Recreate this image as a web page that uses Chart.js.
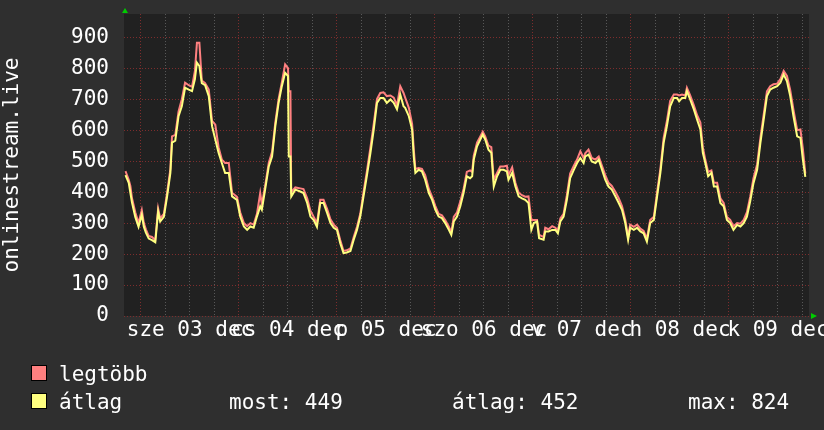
<!DOCTYPE html>
<html><head><meta charset="utf-8">
<script src="https://cdn.jsdelivr.net/npm/chart.js@4/dist/chart.umd.min.js"></script>
<style>html,body{margin:0;padding:0;background:#2f2f2f;overflow:hidden}canvas{display:block}</style>
</head><body>
<canvas id="c" width="824" height="430"></canvas>
<script>
// time in hours relative to 2025-12-03 00:00
const hours = [
-3.8,-3.0,-2.6,-2.2,-1.4,-0.6,0.2,0.7,1.2,1.9,2.7,3.5,4.2,4.7,5.6,6.4,7.2,7.6,8.4,9.2,10.0,10.8,11.7,12.5,13.2,13.7,14.3,14.9,15.7,16.6,17.4,18.2,19.0,19.8,20.6,21.5,22.3,23.5,
24.3,25.2,26.0,26.8,27.6,28.4,29.2,29.6,30.4,31.3,32.1,32.9,33.7,34.5,35.3,36.0,36.2,36.6,36.8,37.8,39.0,39.8,40.7,41.5,42.3,43.1,43.9,44.7,45.6,46.4,47.2,
48.0,48.8,49.6,50.4,51.3,52.1,52.9,53.7,54.5,55.3,56.2,57.0,57.8,58.6,59.4,60.2,61.1,61.9,62.7,63.5,64.3,64.7,65.6,66.4,66.8,67.2,68.0,68.8,69.6,70.5,71.3,
72.1,72.9,73.7,74.5,75.4,76.0,76.6,77.4,78.2,79.0,79.8,80.6,81.1,81.5,82.3,83.1,83.7,84.3,85.1,85.8,86.4,87.2,88.0,88.8,89.6,90.0,90.9,91.7,92.5,93.3,94.1,94.9,95.6,
96.2,97.0,97.5,98.6,99.0,99.8,100.7,101.5,102.1,102.7,103.5,104.3,105.1,106.0,106.8,107.6,108.4,108.8,109.6,110.4,111.3,112.1,112.9,113.7,114.5,115.3,116.2,117.0,117.8,118.6,119.3,
119.8,120.7,121.5,122.3,123.1,123.9,124.7,125.6,126.4,127.2,128.0,128.8,129.6,130.5,131.3,131.8,132.5,133.3,133.7,134.5,135.4,136.2,137.0,137.6,138.2,138.9,139.7,140.3,141.1,141.9,142.7,143.5,
144.3,145.1,146.0,146.8,147.6,148.4,149.2,150.0,150.9,151.7,152.5,153.3,154.1,154.9,155.8,156.6,157.4,158.2,159.0,159.8,160.7,161.5,162.1,162.7
];
// "átlag" (average)
const avgValues = [
455,430,398,366,320,288,327,288,269,250,245,238,337,305,320,386,462,560,566,645,677,737,731,726,764,818,807,752,745,710,613,570,527,494,462,462,386,375,
321,289,278,289,285,321,354,343,408,483,515,613,688,742,785,775,515,515,386,408,402,397,365,321,310,288,365,365,332,300,285,
278,235,203,205,210,246,278,321,386,451,527,602,688,704,704,688,699,688,667,715,677,672,645,602,515,462,472,467,440,397,375,
343,321,316,300,278,262,305,321,354,397,451,445,451,505,548,570,586,570,537,527,418,451,472,472,467,440,462,418,386,380,375,365,278,
300,305,251,246,273,273,278,278,267,305,321,375,445,472,494,510,494,515,521,499,494,505,472,440,418,408,386,365,343,300,246,
285,278,285,273,267,240,300,310,386,462,559,613,677,704,704,693,704,704,726,699,667,634,602,527,494,451,462,418,418,365,354,310,
300,278,294,289,300,321,370,429,472,559,634,710,731,737,742,753,780,758,710,645,580,575,505,449
];
// "legtöbb" (maximum)
const maxValues = [
468,440,420,380,335,300,342,300,280,258,255,245,347,315,330,398,475,580,585,660,700,753,745,740,790,882,882,760,752,731,630,618,545,505,494,494,398,385,
335,300,290,300,295,330,397,360,420,495,530,625,700,755,812,800,726,726,400,415,412,410,380,340,320,300,375,375,345,312,295,
285,245,210,212,218,255,288,330,400,465,545,620,700,720,722,710,712,705,680,742,720,705,672,620,540,475,478,475,455,410,385,
355,330,325,310,288,270,320,335,370,410,465,470,465,518,560,580,595,580,550,545,440,462,483,483,485,455,480,430,398,390,385,386,310,
310,310,262,255,285,280,290,285,275,315,330,390,460,485,505,532,510,525,537,510,505,515,485,455,430,420,400,380,355,312,255,
295,288,295,282,275,250,310,320,400,475,575,630,695,715,715,712,715,712,737,712,680,648,625,545,505,465,470,430,430,380,365,320,
310,290,300,298,310,335,385,445,490,575,650,725,742,748,750,765,791,775,730,665,600,602,540,460
];
const dayLabels = ['sze 03 dec','cs 04 dec','p 05 dec','szo 06 dec','v 07 dec','h 08 dec','k 09 dec'];
const labelHours = [12,36,60,84,108,132,156];
const seriesNames = ['legtöbb','átlag'];
const statNames = ['most','átlag','max'];
const statValues = [449,452,824];
const axisTitle = 'onlinestream.live';
const xMin = -4.16, xMax = 163.6;
const yMin = 0, yMax = 975;

const FONT = '"DejaVu Sans Mono", monospace';
const MAJOR = 'rgb(125,45,45)';
const MINOR = 'rgb(88,88,88)';

const bgPlugin = {
  id: 'bg',
  beforeDraw(chart) {
    const {ctx, chartArea: a} = chart;
    ctx.save();
    ctx.fillStyle = '#2f2f2f';
    ctx.fillRect(0, 0, chart.width, chart.height);
    ctx.fillStyle = '#212121';
    ctx.fillRect(a.left, a.top, a.right - a.left, a.bottom - a.top);
    ctx.restore();
  }
};
const decoPlugin = {
  id: 'deco',
  afterDraw(chart) {
    const {ctx, chartArea: a} = chart;
    ctx.save();
    // arrows
    ctx.fillStyle = '#00cc00';
    ctx.beginPath();
    ctx.moveTo(a.left - 2, a.top - 1); ctx.lineTo(a.left + 4, a.top - 1); ctx.lineTo(a.left + 1, a.top - 6); ctx.closePath(); ctx.fill();
    ctx.beginPath();
    ctx.moveTo(a.right + 2, a.bottom - 3); ctx.lineTo(a.right + 2, a.bottom + 3); ctx.lineTo(a.right + 8, a.bottom); ctx.closePath(); ctx.fill();
    // legend
    const colors = ['#ff8080', '#ffff80'];
    ctx.font = '21px ' + FONT;
    ctx.textBaseline = 'alphabetic';
    ctx.textAlign = 'left';
    for (let i = 0; i < 2; i++) {
      const by = 365 + i * 28;
      ctx.fillStyle = colors[i];
      ctx.fillRect(31, by, 16, 16);
      ctx.strokeStyle = '#000';
      ctx.lineWidth = 1;
      ctx.strokeRect(31.5, by + 0.5, 15, 15);
      ctx.fillStyle = '#ffffff';
      ctx.fillText(seriesNames[i], 59, by + 16);
    }
    const sx = [229, 452, 688];
    for (let i = 0; i < 3; i++) {
      ctx.fillText(statNames[i] + ': ' + statValues[i], sx[i], 409);
    }
    ctx.restore();
  }
};

const toPts = vals => hours.map((h, i) => ({x: h, y: vals[i]}));

new Chart(document.getElementById('c').getContext('2d'), {
  type: 'line',
  data: {
    datasets: [
      {label: seriesNames[1], data: toPts(avgValues), borderColor: '#ffff80', borderWidth: 2, pointRadius: 0, tension: 0, order: 0},
      {label: seriesNames[0], data: toPts(maxValues), borderColor: '#ff8080', borderWidth: 2, pointRadius: 0, tension: 0, order: 1}
    ]
  },
  options: {
    responsive: false, animation: false, devicePixelRatio: 1,
    layout: {padding: {top: 14, right: 15, left: 0, bottom: 0}},
    plugins: {legend: {display: false}, tooltip: {enabled: false}},
    scales: {
      x: {
        type: 'linear', min: xMin, max: xMax,
        afterBuildTicks: s => { const t = []; for (let v = Math.ceil(xMin / 6) * 6; v <= xMax; v += 6) t.push({value: v}); s.ticks = t; },
        afterFit: s => { s.height = 114; s.paddingLeft = 0; s.paddingRight = 0; },
        ticks: {autoSkip: false, maxRotation: 0, minRotation: 0, padding: 2, color: '#ffffff', font: {family: FONT, size: 21},
          callback: v => { const i = labelHours.indexOf(v); return i >= 0 ? dayLabels[i] : ''; }},
        grid: {drawTicks: false, lineWidth: 1, color: c => (c.tick && Math.round(c.tick.value) % 24 === 0) ? MAJOR : MINOR},
        border: {display: false, dash: [1, 2]}
      },
      y: {
        min: yMin, max: yMax,
        afterBuildTicks: s => { const t = []; for (let v = yMin; v <= yMax; v += 20) t.push({value: v}); s.ticks = t; },
        afterFit: s => { s.width = 124; s.paddingTop = 0; s.paddingBottom = 0; },
        ticks: {padding: 15, color: '#ffffff', font: {family: FONT, size: 21},
          callback: v => (v % 100 === 0 ? String(v) : '')},
        grid: {drawTicks: false, lineWidth: 1, color: c => (c.tick && c.tick.value % 100 === 0) ? MAJOR : MINOR},
        border: {display: false, dash: [1, 2]},
        title: {display: true, text: axisTitle, color: '#ffffff', font: {family: FONT, size: 21}, padding: 0}
      }
    }
  },
  plugins: [bgPlugin, decoPlugin]
});
</script>
</body></html>
